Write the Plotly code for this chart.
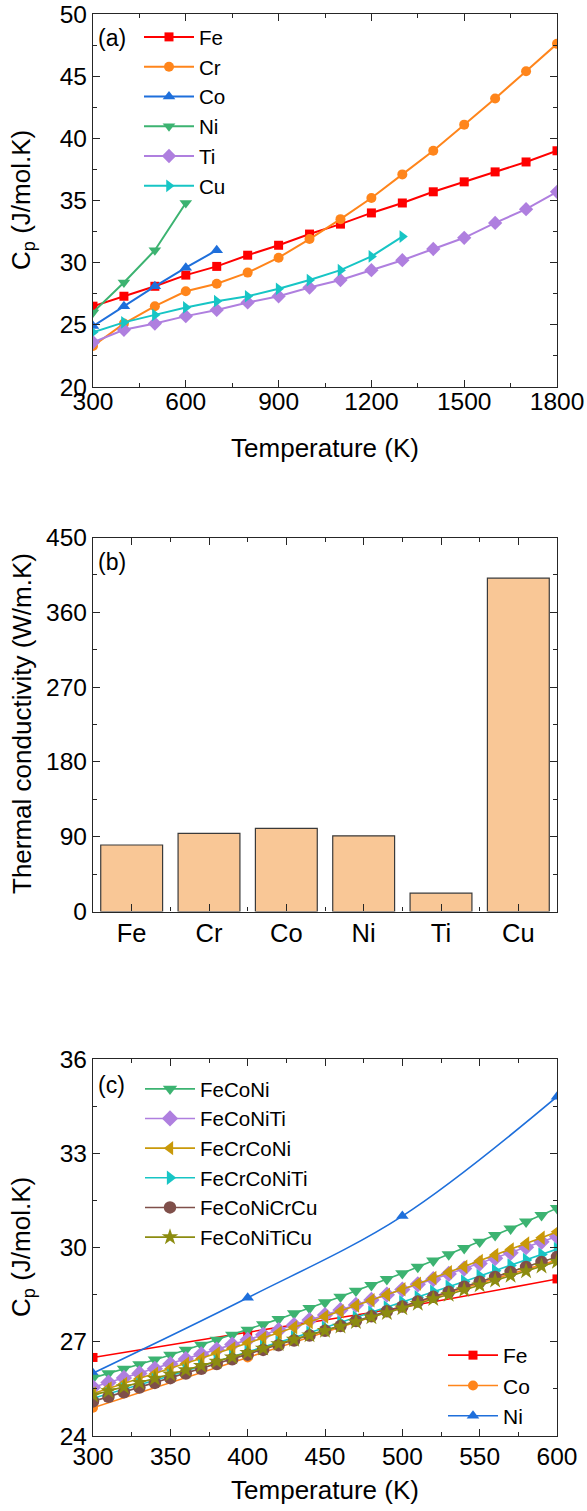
import plotly.graph_objects as go

# ---------------- (a) heat capacity of the pure elements ----------------
T_fe = [300, 400, 500, 600, 700, 800, 900, 1000, 1100, 1200, 1300, 1400, 1500, 1600, 1700, 1800]
cp_fe = [26.5, 27.3, 28.1, 29.0, 29.7, 30.6, 31.4, 32.3, 33.1, 34.0, 34.8, 35.7, 36.5, 37.3, 38.1, 39.0]
T_cr = [300, 400, 500, 600, 700, 800, 900, 1000, 1100, 1200, 1300, 1400, 1500, 1600, 1700, 1800]
cp_cr = [23.3, 25.1, 26.5, 27.7, 28.3, 29.2, 30.4, 31.9, 33.5, 35.2, 37.1, 39.0, 41.1, 43.2, 45.4, 47.6]
T_co = [300, 400, 500, 600, 700]
cp_co = [24.9, 26.5, 28.1, 29.6, 31.0]
T_ni = [300, 400, 500, 600]
cp_ni = [26.0, 28.4, 31.0, 34.8]
T_ti = [300, 400, 500, 600, 700, 800, 900, 1000, 1100, 1200, 1300, 1400, 1500, 1600, 1700, 1800]
cp_ti = [23.6, 24.6, 25.1, 25.7, 26.2, 26.8, 27.3, 28.0, 28.6, 29.4, 30.2, 31.1, 32.0, 33.2, 34.3, 35.7]
T_cu = [300, 400, 500, 600, 700, 800, 900, 1000, 1100, 1200, 1300]
cp_cu = [24.4, 25.2, 25.8, 26.4, 26.9, 27.3, 27.9, 28.6, 29.4, 30.5, 32.1]

# ---------------- (b) thermal conductivity ----------------
elements = ["Fe", "Cr", "Co", "Ni", "Ti", "Cu"]
kappa = [80, 94, 100, 91, 22, 401]

# ---------------- (c) heat capacity of the alloys ----------------
T_alloy = [300, 310, 320, 330, 340, 350, 360, 370, 380, 390, 400, 410, 420, 430, 440, 450,
           460, 470, 480, 490, 500, 510, 520, 530, 540, 550, 560, 570, 580, 590, 600]
cp_FeCoNi = [25.85, 25.99, 26.14, 26.28, 26.43, 26.58, 26.74, 26.90, 27.06, 27.22, 27.38,
             27.55, 27.72, 27.90, 28.07, 28.25, 28.43, 28.62, 28.80, 28.99, 29.18, 29.38,
             29.58, 29.78, 29.98, 30.18, 30.39, 30.60, 30.82, 31.03, 31.25]
cp_FeCoNiTi = [25.55, 25.70, 25.85, 25.99, 26.14, 26.29, 26.45, 26.60, 26.75, 26.91, 27.06,
               27.22, 27.37, 27.53, 27.69, 27.85, 28.01, 28.17, 28.33, 28.50, 28.66, 28.83,
               28.99, 29.16, 29.33, 29.49, 29.66, 29.83, 30.01, 30.18, 30.35]
cp_FeCrCoNi = [25.35, 25.51, 25.66, 25.82, 25.98, 26.14, 26.30, 26.46, 26.63, 26.79, 26.96,
               27.12, 27.29, 27.46, 27.63, 27.80, 27.97, 28.15, 28.32, 28.50, 28.67, 28.85,
               29.03, 29.21, 29.39, 29.57, 29.76, 29.94, 30.13, 30.31, 30.50]
cp_FeCrCoNiTi = [25.20, 25.34, 25.49, 25.63, 25.78, 25.92, 26.07, 26.22, 26.37, 26.52, 26.67,
                 26.83, 26.98, 27.14, 27.29, 27.45, 27.61, 27.77, 27.93, 28.09, 28.26, 28.42,
                 28.59, 28.75, 28.92, 29.09, 29.26, 29.43, 29.60, 29.78, 29.95]
cp_FeCoNiCrCu = [25.10, 25.25, 25.39, 25.54, 25.69, 25.84, 25.99, 26.14, 26.29, 26.44, 26.59,
                 26.74, 26.89, 27.04, 27.20, 27.35, 27.50, 27.66, 27.81, 27.97, 28.12, 28.28,
                 28.43, 28.59, 28.75, 28.91, 29.06, 29.22, 29.38, 29.54, 29.70]
cp_FeCoNiTiCu = [25.30, 25.43, 25.56, 25.70, 25.83, 25.97, 26.10, 26.24, 26.37, 26.51, 26.65,
                 26.79, 26.93, 27.07, 27.21, 27.35, 27.49, 27.63, 27.78, 27.92, 28.07, 28.21,
                 28.36, 28.50, 28.65, 28.80, 28.95, 29.10, 29.25, 29.40, 29.55]

FONT = "Liberation Sans, Arial, sans-serif"
W, H = 587, 1511
AX = "#262626"

RED, ORANGE, BLUE, GREEN = "#FF0000", "#FF851B", "#1E6FDB", "#3CB371"
PURPLE, CYAN, GOLD, BROWN, OLIVE = "#AF7FDF", "#17C5C5", "#C9990A", "#7F4F4A", "#8C8C10"
BAR_FILL, BAR_EDGE = "#F9C796", "#3A3A3A"


def px_x(p):
    return p / W


def px_y(p):
    return 1 - p / H


fig = go.Figure()


def line_trace(x, y, name, color, symbol, size, xa, ya, legend, lw=2.0, shape="linear"):
    return go.Scatter(
        x=x, y=y, name=name, mode="lines+markers", xaxis=xa, yaxis=ya, legend=legend,
        line=dict(color=color, width=lw, shape=shape),
        marker=dict(color=color, symbol=symbol, size=size, line=dict(width=0)),
    )


# panel (a)
fig.add_trace(line_trace(T_fe, cp_fe, "Fe", RED, "square", 9, "x", "y", "legend"))
fig.add_trace(line_trace(T_cr, cp_cr, "Cr", ORANGE, "circle", 10, "x", "y", "legend"))
fig.add_trace(line_trace(T_co, cp_co, "Co", BLUE, "triangle-up", 11, "x", "y", "legend"))
fig.add_trace(line_trace(T_ni, cp_ni, "Ni", GREEN, "triangle-down", 11, "x", "y", "legend"))
fig.add_trace(line_trace(T_ti, cp_ti, "Ti", PURPLE, "diamond", 11, "x", "y", "legend"))
fig.add_trace(line_trace(T_cu, cp_cu, "Cu", CYAN, "triangle-right", 11, "x", "y", "legend"))

# panel (b)
fig.add_trace(go.Bar(
    x=list(range(len(elements))), y=kappa, xaxis="x2", yaxis="y2", showlegend=False,
    width=0.8, marker=dict(color=BAR_FILL, line=dict(color=BAR_EDGE, width=1.2)),
))

# panel (c): pure elements over 300-600 K
n_lo = 4
fig.add_trace(line_trace(T_fe[:n_lo], cp_fe[:n_lo], "Fe", RED, "square", 9, "x3", "y3",
                         "legend3", lw=1.6, shape="spline"))
fig.add_trace(line_trace(T_co[:n_lo], cp_co[:n_lo], "Co", ORANGE, "circle", 10, "x3", "y3",
                         "legend3", lw=1.6, shape="spline"))
fig.add_trace(line_trace(T_ni[:n_lo], cp_ni[:n_lo], "Ni", BLUE, "triangle-up", 11, "x3", "y3",
                         "legend3", lw=1.6, shape="spline"))

# panel (c): alloys
alloys = [
    ("FeCoNi", cp_FeCoNi, GREEN, "triangle-down"),
    ("FeCoNiTi", cp_FeCoNiTi, PURPLE, "diamond"),
    ("FeCrCoNi", cp_FeCrCoNi, GOLD, "triangle-left"),
    ("FeCrCoNiTi", cp_FeCrCoNiTi, CYAN, "triangle-right"),
    ("FeCoNiCrCu", cp_FeCoNiCrCu, BROWN, "circle"),
    ("FeCoNiTiCu", cp_FeCoNiTiCu, OLIVE, "star"),
]
for name, vals, col, sym in alloys:
    fig.add_trace(line_trace(T_alloy, vals, name, col, sym, 12.5, "x3", "y3", "legend2", lw=1.6))


def axis_common(**kw):
    d = dict(
        automargin=False,
        showline=True, linecolor=AX, linewidth=1.3, mirror="allticks",
        ticks="inside", ticklen=7, tickwidth=1.2, tickcolor=AX,
        showgrid=False, zeroline=False,
        tickfont=dict(family=FONT, size=24.5, color="#000000"),
        title_font=dict(family=FONT, size=26, color="#000000"),
    )
    d.update(kw)
    return d


x_dom = [px_x(93), px_x(557)]
dom_a = [px_y(387), px_y(14)]
dom_b = [px_y(911.5), px_y(537.5)]
dom_c = [px_y(1436), px_y(1059)]

minor_style = dict(ticks="inside", ticklen=4, tickwidth=1.2, tickcolor=AX, showgrid=False)

ITEM_W = 50


def legend_style(text_left, top, size):
    # text_left: pixel where the entry labels begin
    return dict(x=px_x(text_left - ITEM_W - 10), y=px_y(top), xanchor="left", yanchor="top",
                itemwidth=ITEM_W, bgcolor="rgba(0,0,0,0)",
                font=dict(family=FONT, size=size, color="#000000"))


annotations = [
    dict(text=t, x=px_x(96), y=px_y(yc), xref="paper", yref="paper",
         xanchor="left", yanchor="middle", showarrow=False,
         font=dict(family=FONT, size=23, color="#000000"))
    for t, yc in [("(a)", 38), ("(b)", 562), ("(c)", 1085)]
]
# vertical axis titles
for t, yc in [("C<sub>p</sub> (J/mol.K)", 200), ("Thermal conductivity (W/m.K)", 724),
              ("C<sub>p</sub> (J/mol.K)", 1247)]:
    annotations.append(dict(text=t, x=px_x(22), y=px_y(yc), xref="paper", yref="paper",
                            xanchor="center", yanchor="middle", textangle=-90,
                            showarrow=False, font=dict(family=FONT, size=26, color="#000000")))

fig.update_layout(
    width=W, height=H,
    margin=dict(l=0, r=0, t=0, b=0),
    paper_bgcolor="white", plot_bgcolor="white",
    font=dict(family=FONT, color="#000000"),
    xaxis=axis_common(domain=x_dom, anchor="y", range=[300, 1800], tick0=300, dtick=300,
                      ticklabelstandoff=-8,
                      minor=dict(dtick=150, **minor_style),
                      title=dict(text="Temperature (K)", standoff=25)),
    yaxis=axis_common(domain=dom_a, anchor="x", range=[20, 50], tick0=20, dtick=5,
                      minor=dict(dtick=2.5, **minor_style)),
    xaxis2=axis_common(domain=x_dom, anchor="y2", range=[-0.5, len(elements) - 0.5],
                       ticklabelstandoff=-1,
                       tickfont=dict(family=FONT, size=25.5, color="#000000"),
                       tickmode="array", tickvals=list(range(len(elements))), ticktext=elements,
                       minor=dict(tickmode="array",
                                  tickvals=[i + 0.5 for i in range(len(elements) - 1)],
                                  **minor_style)),
    yaxis2=axis_common(domain=dom_b, anchor="x2", range=[0, 450], tick0=0, dtick=90,
                       minor=dict(dtick=45, **minor_style)),
    xaxis3=axis_common(domain=x_dom, anchor="y3", range=[300, 600], tick0=300, dtick=50,
                       ticklabelstandoff=-2,
                       minor=dict(dtick=25, **minor_style),
                       title=dict(text="Temperature (K)", standoff=12)),
    yaxis3=axis_common(domain=dom_c, anchor="x3", range=[24, 36], tick0=24, dtick=3,
                       minor=dict(dtick=1.5, **minor_style)),
    legend=legend_style(199, 17, 20.6),
    legend2=legend_style(200, 1069, 20.5),
    legend3=legend_style(503, 1335, 21),
    annotations=annotations,
)

fig.write_html("out.html")
